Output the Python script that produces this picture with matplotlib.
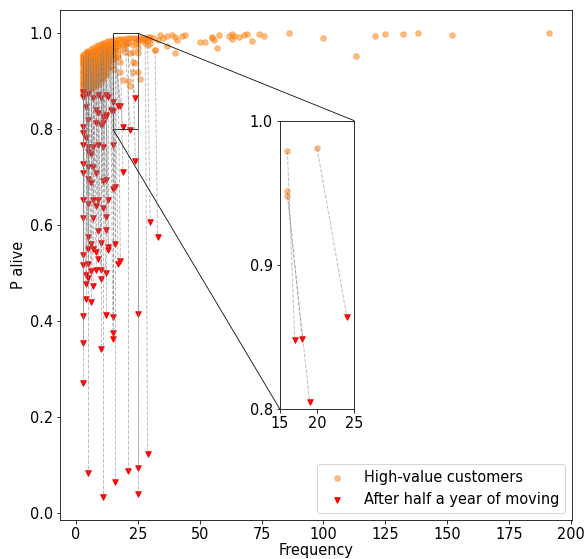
import matplotlib
matplotlib.use('Agg')
import matplotlib.pyplot as plt
from mpl_toolkits.axes_grid1.inset_locator import mark_inset

# background cloud of high-value customers (frequency, P alive)
hv_freq = [3]*13 + [4]*13 + [5]*13 + [6]*13 + [7]*13 + [8]*13 + [9]*13 \
    + [10]*12 + [11]*11 + [12]*11 + [13]*9 + [14]*7 + [15]*6 + [16]*4 + [17]*4 \
    + [18]*4 + [19]*3 + [20]*3 + [21]*3 + [22]*3 + [23]*4 + [24]*3 + [25]*4 \
    + [26]*2 + [27]*2 + [28]*2 + [29]*2 + [30]*2 \
    + [31, 32, 33, 34, 35, 37, 37, 39, 40, 40, 41, 43, 44, 50, 52, 55, 55, 56,
       58, 57, 62, 63, 63, 64, 66, 68, 69, 71, 74, 76, 86, 100, 113, 121, 125,
       132, 138, 152, 191]
hv_palive = [0.955, 0.948, 0.941, 0.934, 0.927, 0.920, 0.913, 0.906, 0.899, 0.892, 0.885, 0.878, 0.871,
             0.959, 0.952, 0.945, 0.938, 0.931, 0.924, 0.917, 0.910, 0.903, 0.896, 0.889, 0.882, 0.875,
             0.963, 0.956, 0.949, 0.942, 0.935, 0.928, 0.921, 0.914, 0.907, 0.900, 0.893, 0.886, 0.879,
             0.967, 0.960, 0.953, 0.946, 0.939, 0.932, 0.925, 0.918, 0.911, 0.904, 0.897, 0.890, 0.883,
             0.970, 0.963, 0.956, 0.949, 0.942, 0.935, 0.928, 0.921, 0.914, 0.907, 0.900, 0.893, 0.886,
             0.973, 0.966, 0.959, 0.952, 0.945, 0.938, 0.931, 0.924, 0.917, 0.910, 0.903, 0.896, 0.889,
             0.976, 0.969, 0.962, 0.955, 0.948, 0.941, 0.934, 0.927, 0.920, 0.913, 0.906, 0.899, 0.892,
             0.978, 0.971, 0.964, 0.957, 0.950, 0.943, 0.936, 0.929, 0.922, 0.915, 0.908, 0.901,
             0.980, 0.973, 0.966, 0.959, 0.952, 0.945, 0.938, 0.931, 0.924, 0.917, 0.910,
             0.982, 0.975, 0.968, 0.961, 0.954, 0.947, 0.940, 0.933, 0.926, 0.919, 0.912,
             0.983, 0.976, 0.969, 0.962, 0.955, 0.948, 0.941, 0.934, 0.927,
             0.984, 0.977, 0.970, 0.963, 0.956, 0.949, 0.942,
             0.985, 0.978, 0.971, 0.964, 0.957, 0.950,
             0.986, 0.979, 0.972, 0.962,
             0.987, 0.980, 0.973, 0.955,
             0.987, 0.978, 0.941, 0.920,
             0.988, 0.975, 0.902,
             0.988, 0.978, 0.960,
             0.989, 0.980, 0.900,
             0.989, 0.958, 0.889,
             0.990, 0.975, 0.941, 0.920,
             0.990, 0.980, 0.937,
             0.990, 0.985, 0.958, 0.920,
             0.990, 0.904,
             0.991, 0.985,
             0.991, 0.980,
             0.992, 0.985,
             0.992, 0.980,
             0.990, 0.965, 0.985, 0.996, 0.990, 0.994, 0.973, 0.996, 0.992,
             0.959, 0.985, 0.994, 0.996, 0.982, 0.982, 0.992, 0.991, 0.985,
             0.997, 0.970, 0.994, 0.998, 0.987, 0.994, 0.992, 0.996, 0.998,
             0.984, 0.998, 0.994, 1.000, 0.991, 0.953, 0.994, 0.999, 0.999,
             1.000, 0.996, 1.000]

# customers before (orange) and after half a year (red)
before_freq = [3, 3, 4, 6, 8, 9, 11, 12, 14, 7, 8, 10, 11, 13, 3, 4, 3, 7, 9, 10,
               13, 11, 16, 16, 16, 20, 20,
               3, 3, 3, 4, 4, 6, 8, 10, 5, 3, 5, 6, 7, 3, 5, 6, 10, 11, 14, 15,
               12, 8, 7, 3, 4, 7, 10, 3, 6, 12, 29, 23, 18, 14, 32,
               3, 3, 4, 4, 5, 5, 8, 9, 11, 10, 6, 3, 4, 6, 3, 12, 15, 25, 17,
               16, 15, 11, 12, 13, 8, 9, 5, 5, 7, 7, 9, 4,
               3, 3, 5, 11, 10, 15, 14, 28, 21, 25, 16, 25]
before_palive = [0.935, 0.905, 0.950, 0.930, 0.960, 0.940, 0.965, 0.950, 0.975,
                 0.910, 0.925, 0.955, 0.930, 0.970, 0.920, 0.890, 0.880, 0.945,
                 0.915, 0.970, 0.945, 0.905, 0.979, 0.951, 0.948, 0.981, 0.970,
                 0.950, 0.900, 0.920, 0.935, 0.915, 0.960, 0.900, 0.925, 0.945,
                 0.935, 0.905, 0.890, 0.960, 0.945, 0.960, 0.910, 0.905, 0.950,
                 0.930, 0.960, 0.930, 0.945, 0.930, 0.885, 0.900, 0.895, 0.940,
                 0.910, 0.945, 0.915, 0.975, 0.960, 0.965, 0.955, 0.965,
                 0.945, 0.895, 0.880, 0.925, 0.935, 0.890, 0.935, 0.955, 0.940,
                 0.915, 0.920, 0.940, 0.960, 0.900, 0.895, 0.970, 0.940, 0.970,
                 0.950, 0.965, 0.925, 0.920, 0.960, 0.955, 0.915, 0.930, 0.920,
                 0.955, 0.920, 0.940, 0.900, 0.940,
                 0.925, 0.955, 0.950, 0.975, 0.960, 0.950, 0.960, 0.985, 0.980,
                 0.980, 0.970, 0.985]
after_freq = [3, 3, 5, 7, 9, 10, 12, 13, 15, 8, 9, 11, 12, 14, 4, 5, 3, 8, 10, 11,
              15, 12, 17, 18, 19, 24, 22,
              3, 4, 3, 5, 5, 7, 9, 11, 6, 3, 5, 7, 8, 3, 5, 6, 11, 12, 15, 16,
              13, 9, 7, 3, 5, 8, 11, 3, 7, 12, 30, 24, 19, 15, 33,
              3, 3, 5, 4, 5, 6, 8, 10, 12, 10, 7, 4, 4, 6, 3, 12, 15, 25, 18,
              17, 16, 12, 13, 13, 9, 9, 5, 6, 7, 8, 10, 5,
              3, 3, 5, 11, 10, 15, 15, 29, 21, 25, 16, 25]
after_palive = [0.878, 0.867, 0.874, 0.864, 0.871, 0.864, 0.871, 0.867, 0.857,
                0.840, 0.833, 0.826, 0.829, 0.840, 0.846, 0.819, 0.805, 0.812,
                0.808, 0.812, 0.837, 0.826, 0.848, 0.849, 0.805, 0.864, 0.798,
                0.791, 0.781, 0.767, 0.763, 0.753, 0.763, 0.767, 0.763, 0.749,
                0.728, 0.722, 0.722, 0.708, 0.708, 0.697, 0.687, 0.691, 0.694,
                0.676, 0.680, 0.652, 0.652, 0.652, 0.652, 0.645, 0.639, 0.635,
                0.614, 0.614, 0.617, 0.607, 0.734, 0.711, 0.767, 0.576,
                0.538, 0.517, 0.519, 0.496, 0.489, 0.505, 0.506, 0.506, 0.501,
                0.488, 0.474, 0.477, 0.446, 0.440, 0.410, 0.413, 0.409, 0.414,
                0.526, 0.520, 0.560, 0.590, 0.555, 0.548, 0.588, 0.530, 0.576,
                0.560, 0.551, 0.544, 0.562, 0.551,
                0.354, 0.272, 0.083, 0.034, 0.341, 0.376, 0.363, 0.124, 0.088,
                0.093, 0.064, 0.040]

# pairs shown inside the zoomed window
zoom_idx = [22, 23, 24, 25]

plt.rcParams['font.size'] = 14.5
fig = plt.figure(figsize=(586/72, 559/72), dpi=72)
ax = fig.add_axes([0.1024, 0.0698, 0.8737, 0.9123])

ax.scatter(hv_freq + before_freq, hv_palive + before_palive, s=30,
           color='tab:orange', alpha=0.5, label='High-value customers')
ax.scatter(after_freq, after_palive, s=30, color='red', marker='v',
           label='After half a year of moving')
for i in range(len(before_freq)):
    ax.plot([before_freq[i], after_freq[i]], [before_palive[i], after_palive[i]],
            '--', color='gray', alpha=0.5, lw=1)
ax.set_xlabel('Frequency', labelpad=1)
ax.set_ylabel('P alive')
ax.legend(loc='lower right')

axins = ax.inset_axes([0.4296, 0.2171, 0.1451, 0.5659])
axins.scatter([before_freq[i] for i in zoom_idx], [before_palive[i] for i in zoom_idx],
              s=30, color='tab:orange', alpha=0.5)
axins.scatter([after_freq[i] for i in zoom_idx], [after_palive[i] for i in zoom_idx],
              s=30, color='red', marker='v')
for i in zoom_idx:
    axins.plot([before_freq[i], after_freq[i]], [before_palive[i], after_palive[i]],
               '--', color='gray', alpha=0.5, lw=1)
axins.set_xlim(15, 25)
axins.set_ylim(0.8, 1.0)
axins.set_xticks([15, 20, 25])
axins.set_yticks([0.8, 0.9, 1.0])
mark_inset(ax, axins, loc1=1, loc2=3, fc='none', ec='black', lw=0.8)

fig.savefig('out.png', dpi=72)
